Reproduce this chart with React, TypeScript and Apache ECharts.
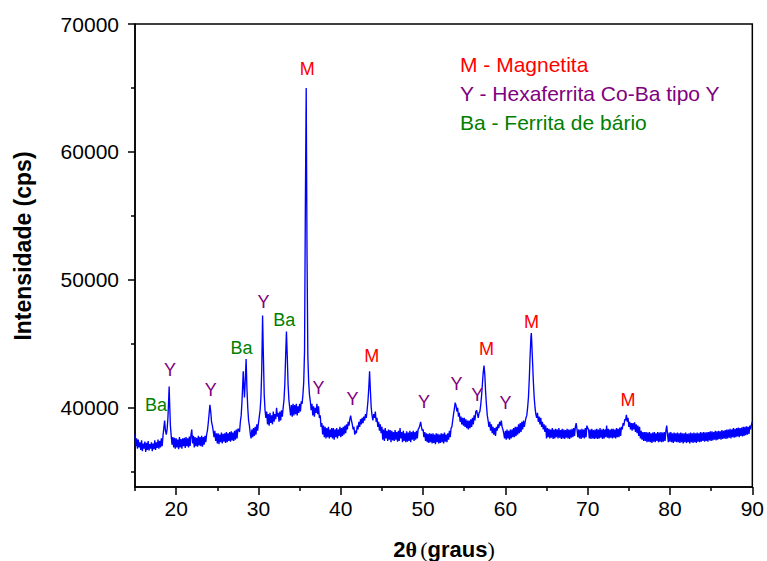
import React, { useEffect, useRef } from "react";
import * as echarts from "echarts";

// ---- data ----
const THETA_START = 15;
const THETA_STEP = 0.1;
// intensity (cps) on a 0.1° grid from 15.0° to 90.0° (one row = 2°)
const intensity: number[] = [
  37900, 37000, 37600, 36800, 37500, 36900, 37300, 36700, 37450, 36600, 37200, 36800, 37350, 36550, 37250, 36700, 37400, 36650, 37150, 36800,
  37300, 36600, 37200, 36750, 37450, 36700, 37300, 36850, 37500, 36800, 37400, 36900, 37600, 37000, 37800, 38400, 39000, 38200, 37900, 38300,
  39200, 40800, 40500, 38600, 37800, 37100, 37700, 36900, 37650, 36800, 37600, 36900, 37500, 36750, 37700, 36900, 37550, 36800, 37600, 37000,
  37650, 36850, 37700, 37000, 37600, 36900, 37750, 37000, 37900, 38300, 37200, 37800, 36900, 37700, 37000, 37650, 36950, 37800, 37050, 37700,
  37000, 37800, 36950, 37700, 37100, 37800, 37300, 37900, 38200, 38800, 39500, 40230, 39700, 38900, 38600, 38200, 37700, 38200, 37400, 38000,
  37200, 38000, 37150, 37900, 37300, 38050, 37200, 37950, 37350, 38000, 37250, 38100, 37300, 38000, 37400, 38100, 37350, 38150, 37450, 38050,
  37400, 38200, 37500, 38300, 37600, 38350, 38300, 38100, 38900, 39400, 40500, 42000, 42000, 40800, 42200, 43800, 41500, 40000, 39000, 38600,
  38000, 37600, 38300, 37700, 38400, 37800, 38500, 37900, 38700, 38200, 38800, 39300, 39800, 40800, 43000, 47200, 44000, 41000, 39800, 39200,
  39700, 38700, 39500, 38600, 39600, 38800, 39400, 38700, 39700, 38900, 39500, 39100, 40000, 39300, 39600, 38900, 39700, 39000, 39800, 39300,
  40000, 40600, 41800, 44000, 45960, 44000, 41800, 40600, 40000, 39400, 40200, 39300, 40300, 39400, 40200, 39500, 40300, 39400, 40100, 39600,
  40300, 39700, 40500, 40300, 41000, 42000, 44500, 56000, 65000, 52000, 44000, 42000, 41000, 40500, 39800, 40300, 39400, 40100, 39300, 40000,
  39600, 40300, 39500, 40100, 39200, 39400, 38500, 38800, 37900, 38600, 37700, 38500, 37600, 38400, 37700, 38500, 37600, 38300, 37700, 38400,
  37600, 38400, 37500, 38300, 37700, 38400, 37600, 38300, 37800, 38500, 37700, 38400, 37800, 38500, 37900, 38600, 38000, 38700, 38300, 38900,
  38600, 39100, 39375, 39000, 38700, 38300, 38500, 37900, 38200, 38000, 38600, 38300, 38900, 38500, 39100, 38700, 39200, 38800, 39300, 39000,
  39500, 39200, 39800, 40500, 41500, 42840, 41300, 40000, 39400, 39000, 39500, 39200, 39700, 38900, 39200, 38500, 38900, 38200, 38700, 38000,
  38500, 37500, 38300, 37400, 38400, 37600, 38200, 37400, 38300, 37500, 38250, 37300, 38200, 37450, 38100, 37400, 38250, 37500, 38100, 37350,
  38200, 37400, 38400, 37600, 38100, 37300, 38200, 37400, 38000, 37300, 38150, 37350, 38050, 37400, 38200, 37300, 38100, 37500, 38200, 37400,
  38100, 37500, 38200, 37600, 38300, 38400, 38600, 38900, 38500, 38200, 38300, 37700, 38100, 37400, 38000, 37300, 37950, 37250, 38000, 37300,
  37950, 37200, 38000, 37250, 37900, 37150, 38000, 37300, 37950, 37200, 37900, 37250, 38000, 37300, 37950, 37200, 38050, 37350, 37900, 37300,
  38000, 37500, 38200, 37700, 38400, 38500, 39000, 39500, 39900, 40400, 40200, 39700, 40000, 39300, 39600, 38900, 39300, 38700, 39200, 38600,
  39200, 38500, 39100, 38400, 39000, 38300, 39000, 38400, 39100, 38500, 39200, 38700, 39400, 39000, 39700, 39800, 39500, 39200, 39600, 39700,
  40200, 40900, 41800, 42700, 43300, 42600, 41200, 40200, 39400, 39000, 38500, 38900, 38200, 38700, 38000, 38500, 37900, 38400, 37800, 38500,
  38200, 38700, 38400, 38900, 38600, 39000, 38500, 38300, 38000, 37600, 38200, 37500, 38300, 37600, 38200, 37500, 38300, 37600, 38300, 37700,
  38400, 37700, 38500, 37800, 38500, 37900, 38700, 38000, 38800, 38100, 38900, 38300, 39000, 38500, 38900, 39200, 39400, 40000, 40800, 42200,
  44000, 45500, 45200, 43600, 42000, 40800, 40000, 39500, 39200, 39600, 38900, 39300, 38700, 39200, 38500, 38900, 38300, 38700, 38100, 38600,
  37600, 38400, 37700, 38350, 37600, 38300, 37650, 38400, 37550, 38300, 37600, 38350, 37700, 38300, 37600, 38400, 37650, 38250, 37550, 38350,
  37600, 38300, 37550, 38250, 37650, 38350, 37600, 38300, 37550, 38300, 37650, 38350, 37700, 38400, 37800, 38500, 38800, 38300, 37700, 38300,
  37600, 38300, 37550, 38350, 37650, 38300, 37600, 38400, 37700, 38600, 38400, 38300, 37600, 38300, 37550, 38350, 37600, 38250, 37550, 38300,
  37600, 38350, 37550, 38300, 37600, 38400, 37650, 38300, 37550, 38350, 37600, 38300, 37700, 38600, 37650, 38350, 37600, 38300, 37650, 38350,
  37600, 38350, 37650, 38300, 37600, 38400, 37700, 38350, 37700, 38450, 37800, 38500, 38300, 38800, 38600, 39100, 39000, 39450, 38900, 39200,
  38500, 38900, 38300, 38800, 38200, 38800, 38300, 38850, 38100, 38700, 38000, 38600, 37800, 38500, 37600, 38200, 37500, 38100, 37400, 38100,
  37400, 38100, 37300, 38050, 37350, 38100, 37300, 38000, 37250, 38050, 37350, 38100, 37300, 38000, 37400, 38100, 37300, 38050, 37350, 38100,
  37300, 38050, 37350, 38100, 37400, 38200, 38600, 37900, 37300, 38050, 37350, 38100, 37300, 38000, 37250, 38050, 37350, 38000, 37300, 38050,
  37300, 38000, 37250, 38050, 37300, 38000, 37200, 38000, 37300, 38050, 37250, 37950, 37300, 38000, 37200, 38050, 37300, 38000, 37250, 38050,
  37300, 38000, 37250, 38050, 37350, 38000, 37300, 38100, 37350, 38050, 37400, 38100, 37350, 38050, 37400, 38100, 37350, 38100, 37450, 38150,
  37400, 38150, 37450, 38100, 37500, 38200, 37450, 38150, 37500, 38200, 37550, 38150, 37500, 38250, 37550, 38200, 37600, 38250, 37550, 38300,
  37600, 38300, 37650, 38350, 37600, 38300, 37700, 38400, 37650, 38350, 37700, 38400, 37750, 38450, 37700, 38400, 37800, 38450, 37750, 38500,
  37800, 38500, 37850, 38550, 37900, 38500, 37950, 38600, 38300, 38700, 38900,
];
// extra points at sharp peak tops lying between grid points [2θ, cps]
const peakTops: [number, number][] = [
  [19.15, 41660], [28.15, 42840], [63.15, 45830],
];

// phase annotations [2θ, cps] (text centre)
const magnetitaMarks: [number, number][] = [
  [35.92, 66480], [43.75, 44020], [57.7, 44570], [63.16, 46720], [74.9, 40580],
];
const hexaferritaMarks: [number, number][] = [
  [19.25, 42970], [24.2, 41400], [30.62, 48240], [37.3, 41560], [41.43, 40700],
  [50.1, 40430], [54.06, 41870], [56.58, 40980], [60.0, 40340],
];
const barioMarks: [number, number][] = [
  [17.55, 40230], [27.94, 44660], [33.14, 46870],
];

const legendTexts = ["M - Magnetita", "Y - Hexaferrita Co-Ba tipo Y", "Ba - Ferrita de bário"];
const phaseColors = ["#ff0000", "#800080", "#008000"];
const phaseSymbols = ["M", "Y", "Ba"];

const xMajorTicks = [20, 30, 40, 50, 60, 70, 80, 90];
const xMinorTicks = [15, 25, 35, 45, 55, 65, 75, 85];
const yMajorTicks = [40000, 50000, 60000, 70000];
const yMinorTicks = [35000, 45000, 55000, 65000];
const X_MIN = 15, X_MAX = 90, Y_MIN = 33800, Y_MAX = 70000;

const FONT = "Liberation Sans, Arial, sans-serif";

export default function App() {
  const ref = useRef<HTMLDivElement>(null);
  useEffect(() => {
    document.body.style.margin = "0";
    if (!ref.current) return;
    const chart = echarts.init(ref.current, undefined, { renderer: "svg" });

    const pts: [number, number][] = intensity.map((v, i) => [
      Number((THETA_START + i * THETA_STEP).toFixed(2)),
      v,
    ]);
    const all = pts.concat(peakTops).sort((a, b) => a[0] - b[0]);

    const black = { color: "#000", width: 1.5 };
    const markSets = [magnetitaMarks, hexaferritaMarks, barioMarks];

    chart.setOption({
      animation: false,
      backgroundColor: "#fff",
      grid: {
        left: 135, right: 14, top: 24, bottom: 74,
        show: true, borderColor: "#000", borderWidth: 1.5, backgroundColor: "transparent",
      },
      xAxis: [
        {
          type: "value", min: X_MIN, max: X_MAX, position: "bottom",
          axisLine: { show: true, onZero: false, lineStyle: black },
          axisTick: { show: true, inside: false, length: 8, customValues: xMajorTicks, lineStyle: black },
          axisLabel: { show: true, customValues: xMajorTicks, margin: 11, fontSize: 21, color: "#000", fontFamily: FONT },
          splitLine: { show: false },
        },
        {
          type: "value", min: X_MIN, max: X_MAX, position: "bottom", offset: 0,
          axisLine: { show: false, onZero: false },
          axisTick: { show: true, inside: false, length: 4, customValues: xMinorTicks, lineStyle: black },
          axisLabel: { show: false },
          splitLine: { show: false },
        },
      ],
      yAxis: [
        {
          type: "value", min: Y_MIN, max: Y_MAX, position: "left",
          axisLine: { show: true, onZero: false, lineStyle: black },
          axisTick: { show: true, inside: false, length: 7, customValues: yMajorTicks, lineStyle: black },
          axisLabel: {
            show: true, customValues: yMajorTicks, margin: 16, fontSize: 21, color: "#000", fontFamily: FONT,
            formatter: (v: number) => String(Math.round(v)),
          },
          splitLine: { show: false },
        },
        {
          type: "value", min: Y_MIN, max: Y_MAX, position: "left", offset: 0,
          axisLine: { show: false, onZero: false },
          axisTick: { show: true, inside: false, length: 4, customValues: yMinorTicks, lineStyle: black },
          axisLabel: { show: false },
          splitLine: { show: false },
        },
      ],
      series: [
        {
          type: "line", data: all, xAxisIndex: 0, yAxisIndex: 0,
          symbol: "none", showSymbol: false, silent: true,
          lineStyle: { color: "#0000ff", width: 1.35 }, z: 2,
        },
        ...markSets.map((set, k) => ({
          type: "scatter",
          data: set,
          xAxisIndex: 0, yAxisIndex: 0,
          symbolSize: 0,
          silent: true,
          itemStyle: { color: "transparent", opacity: 1 },
          label: {
            show: true, position: "inside", formatter: phaseSymbols[k], opacity: 1,
            color: phaseColors[k], fontSize: 18, fontFamily: FONT,
          },
          z: 3,
        })),
      ],
      graphic: [
        ...legendTexts.map((t, i) => ({
          type: "text", x: 460, y: 64 + i * 29.2,
          style: { text: t, fill: phaseColors[i], fontSize: 21, fontFamily: FONT, align: "left", verticalAlign: "middle" },
        })),
        {
          type: "text", x: 23, y: 246, rotation: Math.PI / 2,
          style: {
            text: "Intensidade (cps)", fill: "#000", fontSize: 23, fontWeight: "bold",
            fontFamily: FONT, align: "center", verticalAlign: "middle",
          },
        },
        {
          type: "text", x: 444, y: 549,
          style: {
            text: "{b|2}{t|θ} {p|(}{b|graus}{p|)}",
            align: "center", verticalAlign: "middle", fill: "#000",
            rich: {
              b: { fontSize: 22, fontWeight: "bold", fontFamily: FONT, fill: "#000" },
              t: { fontSize: 22, fontWeight: "bold", fontFamily: "Liberation Serif, serif", fill: "#000" },
              p: { fontSize: 22, fontFamily: "Liberation Serif, serif", fill: "#000" },
            },
          },
        },
      ],
    });
    return () => chart.dispose();
  }, []);
  return <div ref={ref} style={{ width: 767, height: 561 }} />;
}
